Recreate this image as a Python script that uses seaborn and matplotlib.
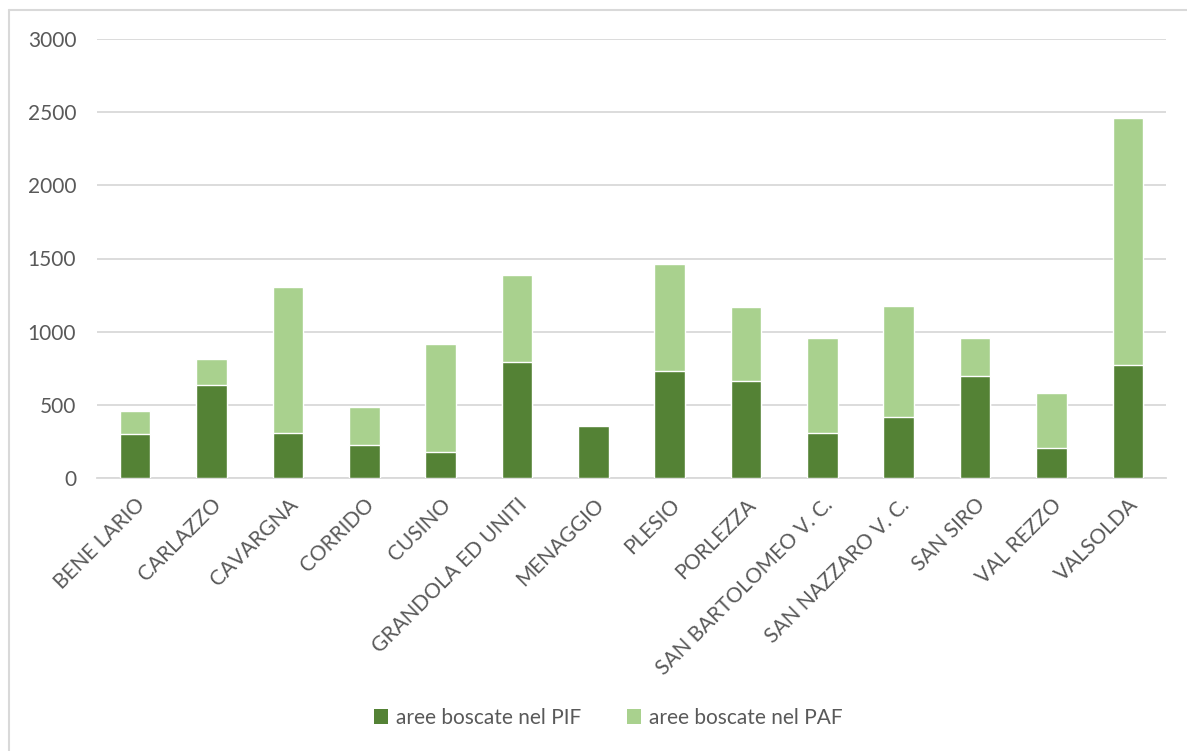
import matplotlib
matplotlib.use("Agg")
import matplotlib.pyplot as plt
from matplotlib.lines import Line2D
from matplotlib.patches import Patch
import pandas as pd
import seaborn as sns

# Wooded areas per municipality (hectares)
comuni = [
    "BENE LARIO", "CARLAZZO", "CAVARGNA", "CORRIDO", "CUSINO",
    "GRANDOLA ED UNITI", "MENAGGIO", "PLESIO", "PORLEZZA",
    "SAN BARTOLOMEO V. C.", "SAN NAZZARO V. C.", "SAN SIRO",
    "VAL REZZO", "VALSOLDA",
]
aree_pif = [303, 633, 310, 223, 180, 793, 353, 731, 661, 310, 417, 697, 207, 775]
aree_paf = [155, 183, 998, 260, 733, 592, 0, 734, 505, 647, 761, 260, 374, 1685]
y_ticks = [0, 500, 1000, 1500, 2000, 2500, 3000]

label_pif = "aree boscate nel PIF"
label_paf = "aree boscate nel PAF"

DARK = "#548235"
LIGHT = "#A9D18E"
GRID = "#D9D9D9"
TEXT = "#595959"

df = pd.DataFrame({"comune": comuni, "pif": aree_pif, "paf": aree_paf})
df["totale"] = df["pif"] + df["paf"]

sns.set_theme(style="white")
plt.rcParams["font.family"] = ["Lato", "DejaVu Sans"]

fig = plt.figure(figsize=(11.87, 7.51), dpi=100)
ax = fig.add_axes([97 / 1187, 1 - 478 / 751, (1166 - 97) / 1187, (478 - 39) / 751])

# stacked bars: full height in light green, PIF share in dark green on top
sns.barplot(data=df, x="comune", y="totale", color=LIGHT, width=0.4,
            saturation=1, ax=ax, zorder=2)
sns.barplot(data=df, x="comune", y="pif", color=DARK, width=0.4,
            saturation=1, ax=ax, zorder=3)

ax.set_ylim(0, 3000)
ax.set_yticks(y_ticks)
ax.set_yticklabels([str(v) for v in y_ticks])
ax.set_xlim(-0.5, len(comuni) - 0.5)
ax.set_xlabel("")
ax.set_ylabel("")

ax.yaxis.grid(True, color=GRID, linewidth=1.3, zorder=0)
ax.set_axisbelow(True)
for side in ["top", "right", "left"]:
    ax.spines[side].set_visible(False)
ax.spines["bottom"].set_color(GRID)
ax.spines["bottom"].set_linewidth(1.3)

ax.tick_params(axis="y", length=0, pad=15, labelsize=15, labelcolor=TEXT)
ax.tick_params(axis="x", length=0, pad=12, labelsize=15, labelcolor=TEXT)
for lbl in ax.get_xticklabels():
    lbl.set_rotation(45)
    lbl.set_rotation_mode("anchor")
    lbl.set_ha("right")
    lbl.set_va("top")

handles = [Patch(facecolor=DARK, edgecolor="none", label=label_pif),
           Patch(facecolor=LIGHT, edgecolor="none", label=label_paf)]
fig.legend(handles=handles, loc="center", ncol=2,
           bbox_to_anchor=(608 / 1187, 1 - 718 / 751), frameon=False,
           fontsize=15, labelcolor=TEXT, handlelength=0.7, handleheight=0.7,
           handletextpad=0.35, columnspacing=2.2)

# chart-area frame
fig.add_artist(Line2D([9 / 1187, 9 / 1187], [0, 1 - 10 / 751],
                      transform=fig.transFigure, color=GRID, linewidth=1.5))
fig.add_artist(Line2D([9 / 1187, 1], [1 - 10 / 751, 1 - 10 / 751],
                      transform=fig.transFigure, color=GRID, linewidth=1.5))

fig.savefig("out.png", dpi=100, facecolor="white")
